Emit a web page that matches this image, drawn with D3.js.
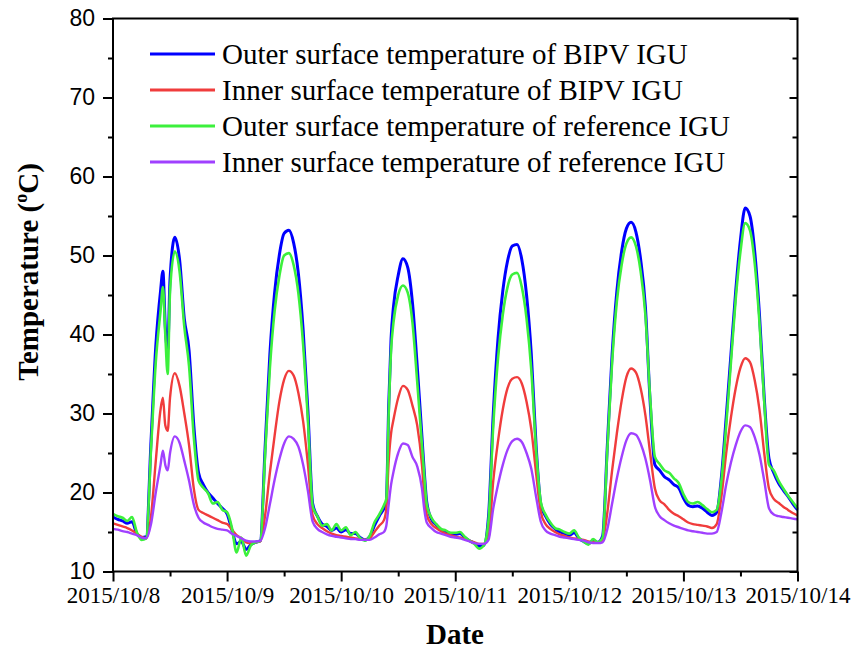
<!DOCTYPE html>
<html><head><meta charset="utf-8">
<script src="https://cdn.jsdelivr.net/npm/d3@7"></script>
<style>
body{margin:0;background:#fff}
.serif{font-family:'Liberation Serif','Times New Roman',Times,serif}
.sans{font-family:'Liberation Sans',Arial,Helvetica,sans-serif}
</style>
</head><body>
<svg id="c" width="854" height="649"></svg>
<script>
// hours since 2015/10/8 00:00
const hours = [
 0,1,2,3,4,5,6,7,8,9,10,10.5,11,11.5,12,13,14,15,16,17,18,19,20,21,22,23,
 24,25,26,27,28,29,30,31,32,33,34,35,36,37,38,39,40,41,42,43,44,45,46,47,
 48,49,50,51,52,53,54,55,56,57,57.5,58,58.5,59,60,61,62,63,64,65,65.5,66,67,68,69,70,71,
 72,73,74,75,76,77,78,79,80,81,82,83,84,85,86,87,88,89,90,91,92,93,94,95,
 96,97,98,99,100,101,102,103,104,105,106,107,108,109,110,111,112,113,114,115,116,117,118,119,
 120,121,122,123,124,125,126,127,128,129,130,131,132,133,134,135,136,137,138,139,140,141,142,143,144];

const outerBIPV = [
 16.9,16.6,16.4,16.1,16.3,14.8,14.3,14.4,26.5,38.5,45.5,48.0,41.0,38.0,47.0,52.3,49.5,42.0,38.0,28.5,22.5,21.0,20.0,19.3,18.6,18.0,
 17.3,15.3,13.5,13.8,12.8,13.4,13.7,13.9,25.7,37.5,45.3,50.1,52.8,53.2,51.6,47.7,40.6,30.4,18.6,17.0,16.0,15.7,15.2,15.5,
 15.0,15.3,14.8,14.8,14.3,14.0,14.4,15.8,17.0,18.0,18.8,31.0,39.5,43.5,47.5,49.6,48.5,44.0,36.0,27.0,22.5,18.8,16.6,15.9,15.3,15.0,14.8,
 14.7,14.8,14.3,13.9,13.6,13.2,13.3,17.0,30.0,39.5,45.5,49.3,51.2,51.4,49.5,45.0,37.5,26.0,18.5,17.0,16.0,15.4,15.0,14.8,
 14.6,14.9,14.2,13.8,13.5,13.9,13.7,14.5,26.0,37.5,45.5,50.5,53.4,54.2,53.0,49.5,43.5,31.5,23.5,22.8,22.0,21.6,21.0,20.6,
 19.3,18.4,18.2,18.3,18.0,17.5,17.1,17.5,22.0,29.5,37.5,45.5,52.0,56.0,55.0,50.5,42.5,32.0,24.3,22.5,21.2,20.3,19.5,18.6,17.8];

const innerBIPV = [
 16.1,15.9,15.7,15.5,15.2,14.8,14.4,14.2,17.0,24.0,30.5,32.0,28.5,27.8,32.0,35.1,33.5,30.0,26.0,20.5,17.8,17.4,17.1,16.8,16.5,16.2,
 16.0,15.3,14.6,14.2,13.7,13.6,13.7,13.8,17.1,22.5,27.2,31.5,34.3,35.4,34.8,32.6,29.0,23.6,17.1,16.0,15.5,15.1,14.8,14.6,
 14.5,14.4,14.3,14.2,14.1,14.0,14.2,15.0,15.8,16.5,18.0,24.0,27.5,29.2,32.0,33.5,33.0,31.0,28.5,23.5,19.5,17.2,16.0,15.5,15.1,14.8,14.6,
 14.4,14.3,14.1,13.9,13.7,13.5,13.5,14.3,21.5,26.5,30.5,33.2,34.4,34.6,33.8,31.5,28.0,22.5,17.5,16.0,15.4,15.0,14.7,14.5,
 14.3,14.2,14.1,14.0,13.8,13.7,13.7,14.0,17.5,22.8,27.5,31.6,34.6,35.7,35.2,33.2,29.8,25.0,20.5,19.0,18.5,17.8,17.3,17.0,
 16.6,16.2,16.0,15.9,15.8,15.7,15.5,16.0,19.5,25.0,29.5,33.2,35.8,37.0,36.5,34.2,30.5,25.0,20.5,19.2,18.7,18.2,17.8,17.4,17.1];

const outerRef = [
 17.3,17.0,16.8,16.4,16.9,15.0,14.0,14.2,25.5,36.5,43.0,46.0,40.0,35.0,45.5,50.5,48.0,41.0,36.0,27.0,21.5,20.6,19.9,18.6,18.8,17.8,
 17.5,15.6,12.4,14.3,12.0,13.3,13.7,13.9,24.8,35.7,43.0,47.4,50.0,50.3,48.8,45.2,38.7,29.2,18.3,17.0,15.8,16.0,15.2,16.0,
 15.2,15.6,14.6,15.0,14.2,13.9,14.5,16.2,17.2,18.4,19.2,30.0,38.0,41.5,45.0,46.2,45.3,41.5,34.0,26.0,22.0,18.5,16.8,16.0,15.4,15.2,14.9,
 14.9,15.0,14.4,13.9,13.5,12.9,13.3,16.5,28.5,37.0,42.5,46.0,47.6,47.8,46.0,42.0,35.5,25.5,18.8,17.2,16.2,15.5,15.3,15.0,
 14.8,15.2,14.3,13.8,13.4,14.1,13.7,14.3,25.5,36.5,44.2,48.8,51.5,52.3,51.2,48.0,42.5,32.0,24.5,23.6,22.8,22.5,21.8,21.2,
 19.8,18.8,18.6,18.8,18.4,17.9,17.5,17.8,21.5,28.5,36.5,44.5,50.5,54.1,53.2,49.0,41.5,31.5,23.5,22.8,21.5,20.5,19.6,18.8,18.0];

const innerRef = [
 15.4,15.3,15.1,15.0,14.8,14.6,14.3,14.2,16.0,20.0,23.5,25.3,23.5,22.8,25.0,27.1,26.3,24.0,21.5,18.5,16.8,16.2,15.9,15.6,15.4,15.3,
 15.2,14.8,14.5,14.2,13.9,13.8,13.8,13.9,15.5,18.5,21.6,24.2,26.2,27.1,26.8,25.8,23.5,20.2,16.3,15.4,15.0,14.7,14.5,14.4,
 14.3,14.2,14.1,14.1,14.0,14.0,14.0,14.3,14.7,15.0,15.8,18.5,21.0,22.6,25.0,26.2,26.0,24.5,23.3,20.5,17.8,16.2,15.5,15.0,14.8,14.6,14.4,
 14.3,14.2,14.0,13.8,13.6,13.5,13.5,14.0,18.0,21.0,23.5,25.4,26.5,26.8,26.4,25.0,23.0,19.5,16.3,15.2,14.8,14.6,14.4,14.3,
 14.2,14.1,14.0,13.9,13.7,13.6,13.6,13.7,15.4,18.6,21.8,24.5,26.6,27.5,27.3,26.2,24.3,21.5,18.2,17.0,16.5,16.1,15.8,15.6,
 15.4,15.2,15.1,15.0,14.9,14.8,14.8,15.0,17.5,21.0,23.8,26.0,27.7,28.5,28.3,27.0,24.8,21.5,18.0,17.2,17.0,16.9,16.8,16.7,16.6];

const seriesNames = [
 "Outer surface temperature of BIPV IGU",
 "Inner surface temperature of BIPV IGU",
 "Outer surface temperature of reference IGU",
 "Inner surface temperature of reference IGU"];
const seriesColors = ["#0000ff", "#f03c3c", "#3cf03c", "#a040ff"];
const seriesWidths = [3, 2.4, 2.6, 2.4];
const yTicks = [10, 20, 30, 40, 50, 60, 70, 80];

const svg = d3.select("#c");
const L = 113, R = 797.5, T = 18.5, B = 571.5;
const t0 = Date.UTC(2015, 9, 8);
const toDate = h => new Date(t0 + h * 3600e3);
const x = d3.scaleUtc().domain([toDate(0), toDate(144)]).range([L, R]);
const y = d3.scaleLinear().domain([10, 80]).range([B, T]);

const allSeries = [outerBIPV, innerBIPV, outerRef, innerRef];
const g = svg.append("g");
const line = d3.line().x(d => x(d[0])).y(d => y(d[1])).curve(d3.curveMonotoneX);
allSeries.forEach((vals, i) => {
  const pts = hours.map((h, k) => [toDate(h), vals[k]]);
  g.append("path").datum(pts).attr("d", line)
    .attr("fill", "none").attr("stroke", seriesColors[i])
    .attr("stroke-width", seriesWidths[i]).attr("stroke-linejoin", "round");
});

// frame
svg.append("rect").attr("x", L).attr("y", T).attr("width", R - L).attr("height", B - T)
  .attr("fill", "none").attr("stroke", "#000").attr("stroke-width", 2);

const majorX = d3.utcDay.range(toDate(0), toDate(144.1));
const minorX = d3.utcHour.every(12).range(toDate(0), toDate(144.1)).filter(d => d.getUTCHours() === 12);
const minorY = d3.range(15, 80, 10);

// bottom axis
const xAxis = d3.axisBottom(x).tickValues(majorX).tickSize(10).tickSizeOuter(0)
  .tickFormat(d3.utcFormat("%Y/%-m/%-d"));
const gx = svg.append("g").attr("transform", `translate(0,${B})`).call(xAxis);
gx.attr("font-family", null).attr("font-size", null);
gx.select(".domain").remove();
gx.selectAll(".tick line").attr("stroke-width", 2);
gx.selectAll(".tick text").attr("class", "serif").style("font-size", "23px")
  .attr("fill", "#000").attr("y", 15).attr("dy", "0.71em");
svg.append("g").attr("transform", `translate(0,${B})`)
  .call(d3.axisBottom(x).tickValues(minorX).tickSize(5).tickFormat(""))
  .call(a => a.select(".domain").remove()).selectAll("line").attr("stroke-width", 2);

// left axis
const yAxis = d3.axisLeft(y).tickValues(yTicks).tickSize(10).tickSizeOuter(0);
const gy = svg.append("g").attr("transform", `translate(${L},0)`).call(yAxis);
gy.attr("font-family", null).attr("font-size", null);
gy.select(".domain").remove();
gy.selectAll(".tick line").attr("stroke-width", 2);
gy.selectAll(".tick text").attr("class", "sans").style("font-size", "23px")
  .attr("fill", "#000").attr("x", -18);
svg.append("g").attr("transform", `translate(${L},0)`)
  .call(d3.axisLeft(y).tickValues(minorY).tickSize(5).tickFormat(""))
  .call(a => a.select(".domain").remove()).selectAll("line").attr("stroke-width", 2);

// right axis (inward ticks)
svg.append("g").attr("transform", `translate(${R},0)`)
  .call(d3.axisLeft(y).tickValues(yTicks).tickSize(8).tickFormat(""))
  .call(a => a.select(".domain").remove()).selectAll("line").attr("stroke-width", 2);
svg.append("g").attr("transform", `translate(${R},0)`)
  .call(d3.axisLeft(y).tickValues(minorY).tickSize(5).tickFormat(""))
  .call(a => a.select(".domain").remove()).selectAll("line").attr("stroke-width", 2);

// axis titles
svg.append("text").attr("class", "serif").attr("x", 455).attr("y", 644).attr("text-anchor", "middle")
  .style("font-weight", "bold").style("font-size", "29px").text("Date");
const yt = svg.append("text").attr("class", "serif").attr("transform", "translate(38,272) rotate(-90)")
  .attr("text-anchor", "middle").style("font-weight", "bold").style("font-size", "29px");
yt.append("tspan").text("Temperature (");
yt.append("tspan").style("font-size", "18px").attr("dy", -11).text("o");
yt.append("tspan").attr("dy", 11).text("C)");

// legend
const lg = svg.append("g");
seriesNames.forEach((name, i) => {
  const ly = 54 + i * 36;
  lg.append("line").attr("x1", 150).attr("x2", 215).attr("y1", ly).attr("y2", ly)
    .attr("stroke", seriesColors[i]).attr("stroke-width", 3);
  lg.append("text").attr("class", "serif").attr("x", 222).attr("y", ly + 10)
    .style("font-size", "29px").text(name);
});
</script>
</body></html>
